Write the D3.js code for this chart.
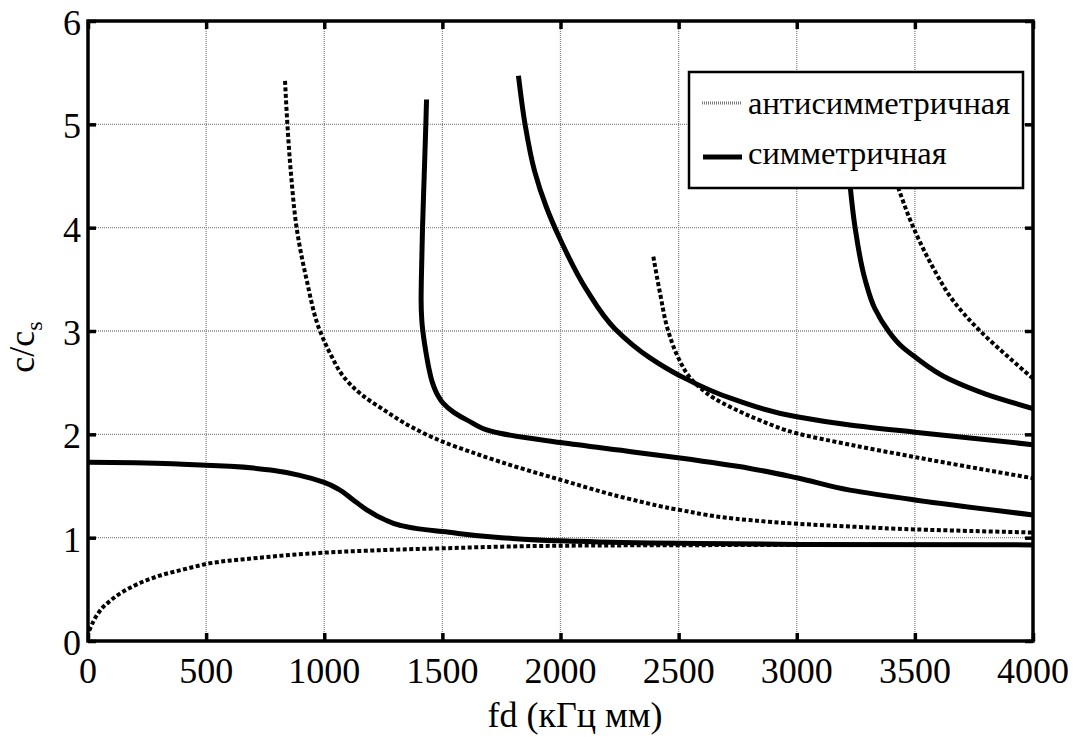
<!DOCTYPE html>
<html><head><meta charset="utf-8">
<script src="https://cdn.jsdelivr.net/npm/d3@7"></script>
<style>body{margin:0;background:#fff}svg{display:block}</style>
</head><body><svg id="c" width="1078" height="737"></svg>
<script>
const xTicks=[0,500,1000,1500,2000,2500,3000,3500,4000];
const yTicks=[0,1,2,3,4,5,6];
const legendLabels=["антисимметричная","симметричная"];
// antisymmetric modes (dashed)
const A0=[[5,0.1],[25,0.2],[50,0.29],[100,0.4],[200,0.54],[300,0.63],[400,0.69],[500,0.745],[700,0.80],[1000,0.855],[1250,0.88],[1500,0.897],[1750,0.913],[2000,0.922],[2500,0.927],[3000,0.929],[4000,0.93]];
const A1=[[834,5.42],[844,5.0],[860,4.5],[883,4.0],[925,3.5],[982,3.0],[1030,2.76],[1081,2.56],[1160,2.38],[1250,2.24],[1370,2.07],[1500,1.93],[1620,1.83],[1750,1.73],[2000,1.56],[2300,1.37],[2500,1.27],[2800,1.17],[3000,1.135],[3250,1.105],[3500,1.08],[4000,1.05]];
const A2=[[2393,3.72],[2421,3.37],[2456,3.0],[2503,2.72],[2541,2.57],[2591,2.45],[2650,2.35],[2732,2.25],[2850,2.13],[3000,2.01],[3225,1.90],[3500,1.78],[4000,1.575]];
const A3=[[3420,4.45],[3494,4.0],[3580,3.6],[3660,3.3],[3776,3.0],[3890,2.76],[4000,2.54]];
// symmetric modes (solid)
const S0=[[0,1.73],[200,1.725],[400,1.71],[600,1.69],[800,1.645],[900,1.6],[1000,1.535],[1060,1.47],[1120,1.37],[1180,1.27],[1250,1.18],[1320,1.12],[1400,1.085],[1500,1.06],[1750,1.0],[2000,0.97],[2500,0.945],[3000,0.935],[4000,0.93]];
const S1=[[1433,5.24],[1430,5.0],[1423,4.5],[1416,4.0],[1411,3.5],[1410,3.3],[1413,3.1],[1420,2.95],[1430,2.8],[1442,2.65],[1458,2.5],[1480,2.38],[1504,2.30],[1550,2.21],[1603,2.14],[1744,2.01],[2000,1.92],[2307,1.83],[2506,1.77],[2802,1.67],[3000,1.58],[3225,1.46],[3500,1.365],[4000,1.22]];
const S2=[[1822,5.47],[1850,5.0],[1890,4.55],[1940,4.2],[2000,3.88],[2110,3.4],[2231,3.02],[2379,2.74],[2503,2.57],[2732,2.34],[3000,2.17],[3225,2.09],[3500,2.02],[4000,1.90]];
const S3=[[3222,4.5],[3247,4.0],[3289,3.5],[3330,3.22],[3388,3.0],[3440,2.86],[3500,2.75],[3649,2.53],[3800,2.39],[4000,2.25]];

const antisym=[A0,A1,A2,A3];
const sym=[S0,S1,S2,S3];
const FONT="Liberation Serif";

const svg=d3.select("#c");
const L=88,T=21,R=1033,B=641;
const x=d3.scaleLinear().domain([0,4000]).range([L,R]);
const y=d3.scaleLinear().domain([0,6]).range([B,T]);

// grid
const g=svg.append("g");
xTicks.slice(1,-1).forEach(v=>g.append("line").attr("x1",x(v)).attr("x2",x(v)).attr("y1",T).attr("y2",B)
  .attr("stroke","#888").attr("stroke-width",1.3).attr("stroke-dasharray","1,1"));
yTicks.slice(1,-1).forEach(v=>g.append("line").attr("x1",L).attr("x2",R).attr("y1",y(v)).attr("y2",y(v))
  .attr("stroke","#888").attr("stroke-width",1.3).attr("stroke-dasharray","1,1"));

svg.append("clipPath").attr("id","pc").append("rect").attr("x",L).attr("y",T).attr("width",R-L).attr("height",B-T);
const lineX=d3.line().x(d=>x(d[0])).y(d=>y(d[1])).curve(d3.curveMonotoneX);
const lineY=d3.line().x(d=>x(d[0])).y(d=>y(d[1])).curve(d3.curveMonotoneY);
const pick=d=>(d[0][1]<d[d.length-1][1]?lineX:lineY)(d);
const curves=svg.append("g").attr("clip-path","url(#pc)");
antisym.forEach(d=>curves.append("path").attr("d",pick(d)).attr("fill","none").attr("stroke","#000").attr("stroke-width",4).attr("stroke-dasharray","4,2.5"));
sym.forEach(d=>curves.append("path").attr("d",pick(d)).attr("fill","none").attr("stroke","#000").attr("stroke-width",5));

// axes (ticks inward, mirrored)
const tl=8;
const ax=svg.append("g");
ax.append("g").attr("transform",`translate(0,${B})`).call(d3.axisBottom(x).tickValues(xTicks).tickSize(-tl).tickFormat(""));
ax.append("g").attr("transform",`translate(0,${T})`).call(d3.axisTop(x).tickValues(xTicks).tickSize(-tl).tickFormat(""));
ax.append("g").attr("transform",`translate(${L},0)`).call(d3.axisLeft(y).tickValues(yTicks).tickSize(-tl).tickFormat(""));
ax.append("g").attr("transform",`translate(${R},0)`).call(d3.axisRight(y).tickValues(yTicks).tickSize(-tl).tickFormat(""));
ax.selectAll(".domain").remove();
ax.selectAll(".tick line").attr("stroke","#000").attr("stroke-width",3.5);
svg.append("rect").attr("x",L).attr("y",T).attr("width",R-L).attr("height",B-T).attr("fill","none").attr("stroke","#000").attr("stroke-width",3.5);

// tick labels
svg.append("g").selectAll("text").data(xTicks).join("text").attr("x",d=>x(d)).attr("y",683).attr("text-anchor","middle")
  .attr("font-family",FONT).attr("font-size",36).text(d=>d);
svg.append("g").selectAll("text").data(yTicks).join("text").attr("x",81).attr("y",d=>y(d)+14).attr("text-anchor","end")
  .attr("font-family",FONT).attr("font-size",36).text(d=>d);

// axis labels
svg.append("text").attr("x",575).attr("y",727).attr("text-anchor","middle").attr("font-family",FONT).attr("font-size",36).text("fd (кГц мм)");
const yl=svg.append("text").attr("transform","translate(34,347) rotate(-90)").attr("text-anchor","middle").attr("font-family",FONT).attr("font-size",36);
yl.append("tspan").attr("font-family",FONT).text("c/c");
yl.append("tspan").attr("font-family",FONT).attr("font-size",24).attr("dy",8).text("s");

// legend
const lg=svg.append("g");
lg.append("rect").attr("x",689).attr("y",72).attr("width",334).attr("height",116).attr("fill","#fff").attr("stroke","#000").attr("stroke-width",2.5);
lg.append("line").attr("x1",702).attr("x2",742).attr("y1",103).attr("y2",103).attr("stroke","#777").attr("stroke-width",3).attr("stroke-dasharray","1,1");
lg.append("line").attr("x1",703).attr("x2",742).attr("y1",157).attr("y2",157).attr("stroke","#000").attr("stroke-width",5);
lg.selectAll("text").data(legendLabels).join("text").attr("x",748).attr("y",(d,i)=>114+i*50)
  .attr("font-family",FONT).attr("font-size",32.5).text(d=>d);
</script></body></html>
